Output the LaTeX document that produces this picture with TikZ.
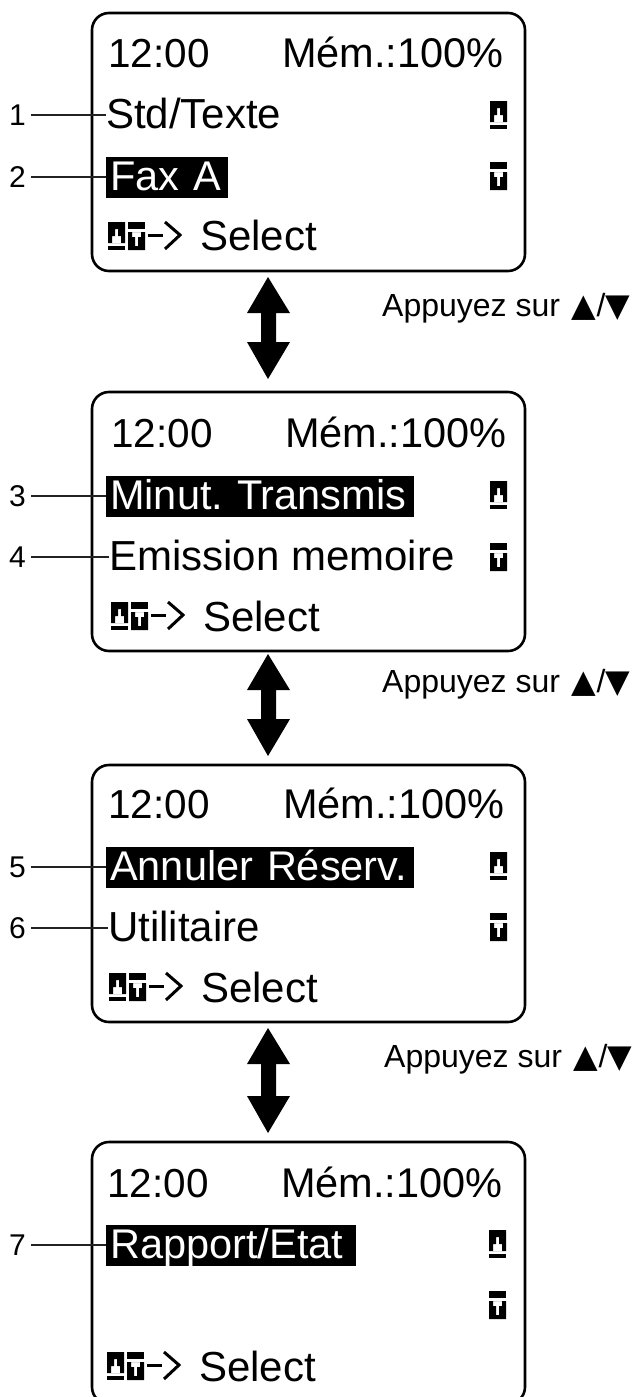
\documentclass[tikz,border=0pt]{standalone}
\usepackage{fontspec}
\setmainfont{Liberation Sans}
\newfontfamily\symbfont{DejaVu Sans}
\usetikzlibrary{calc}
\definecolor{leader-gray}{HTML}{222222}

\tikzset{
    screentext/.style={anchor=base west, inner sep=0pt, font=\fontsize{42}{42}\selectfont},
    clocktext/.style={screentext, font=\fontsize{40.5}{41}\selectfont},
    memtext/.style={screentext, font=\fontsize{41.5}{42}\selectfont},
    selrow/.style={screentext, font=\fontsize{41.5}{42}\selectfont\frenchspacing, fill=black, text=white, inner xsep=4pt, align=left, text width=#1-8pt, text height=33pt, text depth=8pt},
    callout/.style={anchor=east, inner sep=0pt, font=\fontsize{30}{30}\selectfont},
    hint/.style={anchor=base west, inner sep=0pt, font=\fontsize{32}{32}\selectfont},
    leader/.style={leader-gray, line width=1.3pt},
}
\newcommand{\hinttext}{Appuyez sur \kern3pt{\symbfont ▲}/{\symbfont ▼}}

% key symbols, 17 wide, 28 high
\newcommand{\upkey}[2]{
    \begin{scope}[shift={(#1,#2)}]
    \fill[even odd rule] (0, 0) rectangle (17, 21)
        (7, 7) -- (10, 7) -- (10, 14) -- (13, 14) -- (13, 21) -- (4, 21) -- (4, 14) -- (7, 14) -- cycle;
    \fill (0, 24) rectangle (17, 28);
    \end{scope}
}
\newcommand{\downkey}[2]{
    \begin{scope}[shift={(#1,#2)}]
    \fill (0, 0) rectangle (17, 7);
    \fill[even odd rule] (0, 10) rectangle (17, 28)
        (4, 10) -- (13, 10) -- (13, 15) -- (10, 15) -- (10, 24) -- (7, 24) -- (7, 15) -- (4, 15) -- cycle;
    \end{scope}
}
\newcommand{\selectkeys}[2]{
    \upkey{#1}{#2}
    \downkey{#1+20}{#2}
    \draw[line width=3pt] (#1+40, #2+13) -- (#1+55, #2+13);
    \draw[line width=3pt] (#1+57, #2) -- (#1+72, #2+13) -- (#1+57, #2+27);
}

\begin{document}
\begin{tikzpicture}[x=1pt, y=-1pt]
    \useasboundingbox (0, 0) rectangle (635, 1397);

    % screens
    \foreach \top/\bot in {13/271, 392/651, 765/1022, 1142/1404}
        \draw[line width=2.6pt, rounded corners=17pt] (92, \top) rectangle (525, \bot);

    % arrows between the screens
    \foreach \top/\bot in {277/379, 654/756, 1028/1133}
        \fill (268, \top) -- (290, \top+36) -- (276, \top+36) -- (276, \bot-37) -- (290, \bot-37)
            -- (268, \bot) -- (247, \bot-37) -- (261, \bot-37) -- (261, \top+36) -- (247, \top+36) -- cycle;

    % first screen
    \node[clocktext] (clock-one) at (108, 67) {12:00};
    \node[memtext] (mem-one) at (282, 67) {Mém.:100\%};
    \node[screentext] (std) at (106, 128) {Std/Texte};
    \node[selrow=122pt] (fax) at (106, 190) {Fax A};
    \node[screentext] (select-one) at (200, 250) {Select};
    \upkey{490}{101}
    \downkey{490}{162}
    \selectkeys{108}{222}

    % second screen
    \node[clocktext] (clock-two) at (111, 447) {12:00};
    \node[memtext] (mem-two) at (285, 447) {Mém.:100\%};
    \node[selrow=308pt] (minut) at (106, 509) {Minut. Transmis};
    \node[screentext] (emission) at (109, 570) {Emission memoire};
    \node[screentext] (select-two) at (203, 631) {Select};
    \upkey{490}{481}
    \downkey{490}{543}
    \selectkeys{111}{602}

    % third screen
    \node[clocktext] (clock-three) at (108, 818) {12:00};
    \node[memtext] (mem-three) at (283, 818) {Mém.:100\%};
    \node[selrow=308pt] (annuler) at (106, 880) {Annuler Réserv.};
    \node[screentext] (utilitaire) at (108, 941) {Utilitaire};
    \node[screentext] (select-three) at (201, 1002) {Select};
    \upkey{490}{852}
    \downkey{490}{913}
    \selectkeys{109}{973}

    % fourth screen
    \node[clocktext] (clock-four) at (107, 1197) {12:00};
    \node[memtext] (mem-four) at (281, 1197) {Mém.:100\%};
    \node[selrow=250pt] (rapport) at (106, 1258) {Rapport/Etat};
    \node[screentext] (select-four) at (199, 1381) {Select};
    \upkey{489}{1230}
    \downkey{489}{1291}
    \selectkeys{107}{1352}

    % hints
    \node[hint] (hint-one) at (382, 316) {\hinttext};
    \node[hint] (hint-two) at (382, 692) {\hinttext};
    \node[hint] (hint-three) at (384, 1067) {\hinttext};

    % callouts
    \node[callout] (n1) at (26, 115) {1};
    \node[callout] (n2) at (26, 177) {2};
    \node[callout] (n3) at (26, 496) {3};
    \node[callout] (n4) at (26, 557) {4};
    \node[callout] (n5) at (26, 867) {5};
    \node[callout] (n6) at (26, 928) {6};
    \node[callout] (n7) at (26, 1245) {7};
    \draw[leader] ($(n1.east)+(5, 0)$) -- (n1.east -| std.west);
    \draw[leader] ($(n2.east)+(5, 0)$) -- (n2.east -| fax.west);
    \draw[leader] ($(n3.east)+(5, 0)$) -- (n3.east -| minut.west);
    \draw[leader] ($(n4.east)+(5, 0)$) -- (n4.east -| emission.west);
    \draw[leader] ($(n5.east)+(5, 0)$) -- (n5.east -| annuler.west);
    \draw[leader] ($(n6.east)+(5, 0)$) -- (n6.east -| utilitaire.west);
    \draw[leader] ($(n7.east)+(5, 0)$) -- (n7.east -| rapport.west);
\end{tikzpicture}
\end{document}
